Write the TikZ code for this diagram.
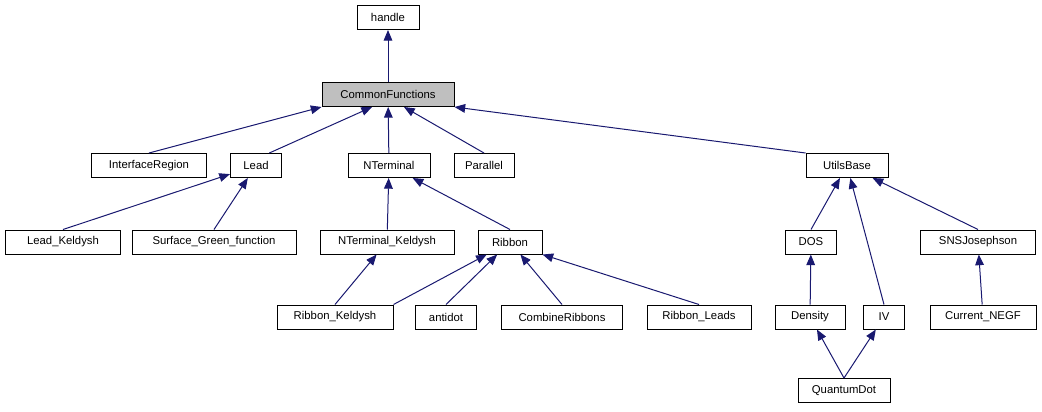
\documentclass[tikz,border=0pt]{standalone}
\usepackage{fontspec}
\setmainfont{Liberation Sans}
\usetikzlibrary{arrows.meta}
\definecolor{edge}{RGB}{25,25,112}
\begin{document}
\begin{tikzpicture}[x=0.75pt,y=-0.75pt,
  box/.style={draw=black,fill=white,line width=0.75pt,minimum height=18pt,inner sep=0pt,font=\fontsize{8.5}{10}\selectfont},
  inh/.style={draw=edge,line width=0.75pt,-{Triangle[length=8pt,width=6.5pt]},shorten >=0pt}]
\useasboundingbox (0,0) rectangle (1042,411);
\newcommand\bx[4]{\node[box,minimum width=#3*0.75pt] (#1) at #2 {#4};}
\bx{handle}{(388,17.5)}{62}{handle}
\node[box,fill={rgb,255:red,191;green,191;blue,191},minimum width=99pt] (cf) at (388,94.5) {CommonFunctions};
\bx{ir}{(149,165.5)}{115}{InterfaceRegion}
\bx{lead}{(256,165.5)}{51}{Lead}
\bx{nt}{(389,165.5)}{82}{NTerminal}
\bx{par}{(484,165.5)}{60}{Parallel}
\bx{ub}{(847,165.5)}{82}{UtilsBase}
\bx{lk}{(63,242)}{115}{Lead\_Keldysh}
\bx{sgf}{(214,242)}{164}{Surface\_Green\_function}
\bx{ntk}{(387,242)}{134}{NTerminal\_Keldysh}
\bx{rib}{(510,242)}{64}{Ribbon}
\bx{dos}{(811,242)}{51}{DOS}
\bx{sns}{(978,242)}{115}{SNSJosephson}
\bx{rk}{(335,317)}{116}{Ribbon\_Keldysh}
\bx{anti}{(446,317)}{61}{antidot}
\bx{cr}{(562,317)}{121}{CombineRibbons}
\bx{rl}{(699,317)}{104}{Ribbon\_Leads}
\bx{den}{(810,317)}{70}{Density}
\bx{iv}{(884,317)}{41}{IV}
\bx{cn}{(983,317)}{106}{Current\_NEGF}
\bx{qd}{(844,390.5)}{92}{QuantumDot}
\draw[inh] (cf) -- (handle);
\draw[inh] (ir.north) -- (cf.south west);
\draw[inh] ([xshift=10pt]lead.north) -- ([xshift=-12pt]cf.south);
\draw[inh] (nt) -- (cf);
\draw[inh] (par.north) -- ([xshift=12pt]cf.south);
\draw[inh] (ub.north west) -- (cf.south east);
\draw[inh] (lk.north) -- (lead);
\draw[inh] (sgf.north) -- (lead);
\draw[inh] (ntk) -- (nt);
\draw[inh] (rib.north) -- (nt);
\draw[inh] (rk.north) -- (ntk);
\draw[inh] (rk.north east) -- (rib);
\draw[inh] (anti.north) -- (rib);
\draw[inh] (cr.north) -- (rib);
\draw[inh] (rl.north) -- (rib.south east);
\draw[inh] (dos.north) -- (ub);
\draw[inh] (iv.north) -- (ub);
\draw[inh] (sns.north) -- (ub);
\draw[inh] (den) -- (dos);
\draw[inh] (cn) -- (sns);
\draw[inh] (qd.north) -- (den);
\draw[inh] (qd.north) -- (iv);
\end{tikzpicture}
\end{document}
